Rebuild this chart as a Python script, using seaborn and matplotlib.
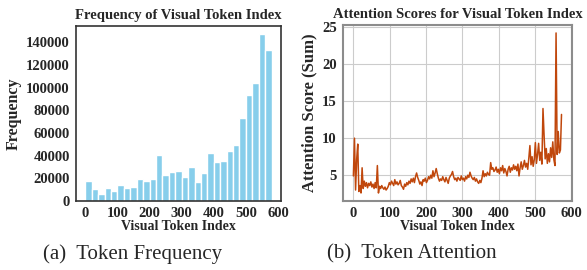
import matplotlib
matplotlib.use('Agg')
import matplotlib.pyplot as plt
import numpy as np
import seaborn as sns

# histogram of visual token index (bins of 20 tokens)
BIN_WIDTH = 20
bin_start = np.arange(0, 580, BIN_WIDTH)
token_freq = [17400, 10900, 5900, 11500, 8500, 13800, 11200, 12100, 19700, 18000,
              19200, 41000, 23000, 25900, 26200, 21500, 29800, 17100, 24500, 42400,
              34200, 35100, 43900, 49800, 72800, 93400, 104300, 147000, 133200]

# summed attention score per visual token (every 3rd token)
token_idx = np.arange(0, 576, 3)
attn_score = [
    4.9, 10.0, 3.0, 7.1, 9.2, 2.8, 3.6, 2.6, 6.0, 3.2,
    4.2, 3.5, 4.0, 3.3, 3.9, 3.6, 4.1, 3.4, 3.8, 3.2,
    4.0, 3.3, 6.3, 2.6, 3.5, 3.2, 3.6, 3.3, 3.1, 3.4,
    3.0, 3.2, 3.5, 4.0, 3.7, 4.2, 3.9, 3.6, 4.4, 3.8,
    4.1, 3.7, 3.9, 4.3, 3.6, 3.4, 3.1, 3.8, 3.5, 4.0,
    3.7, 4.2, 3.9, 4.5, 4.1, 4.6, 4.0, 4.8, 5.3, 4.7,
    4.3, 3.8, 4.1, 3.6, 4.4, 4.2, 4.6, 4.0, 4.3, 4.8,
    4.5, 5.0, 4.6, 5.6, 4.8, 5.3, 5.9, 5.2, 4.6, 4.2,
    4.5, 4.3, 4.8, 4.4, 4.1, 4.7, 4.3, 3.9, 4.6, 4.9,
    5.1, 5.5, 4.8, 4.4, 4.6, 4.2, 4.7, 4.5, 4.3, 4.9,
    4.4, 4.6, 4.2, 4.8, 4.5, 5.0, 4.7, 5.4, 4.9, 4.6,
    4.4, 4.7, 4.2, 4.5, 4.1, 3.9, 4.3, 4.0, 4.6, 5.6,
    4.8, 5.2, 4.9, 5.4, 5.1, 5.0, 6.7, 5.8, 6.0, 5.5,
    5.7, 6.1, 5.4, 5.8, 5.2, 6.0, 5.6, 6.3, 5.3, 5.9,
    5.5, 4.9, 5.8, 6.2, 5.4, 6.0, 5.7, 6.4, 5.8, 6.2,
    5.6, 6.5, 4.9, 6.0, 6.8, 5.8, 6.3, 7.0, 6.1, 6.6,
    5.8, 7.3, 9.0, 6.4, 7.5, 6.2, 7.1, 9.4, 6.6, 7.8,
    9.3, 7.0, 8.1, 6.5, 14.0, 10.4, 7.2, 8.6, 6.6, 7.9,
    6.8, 8.7, 7.4, 9.5, 7.1, 6.3, 24.2, 7.8, 10.9, 8.0,
    8.4, 13.2,
]

BAR_COLOR = '#87ceeb'
LINE_COLOR = '#c0470c'


def _set_fonts():
    plt.rcParams['font.family'] = 'serif'
    plt.rcParams['font.serif'] = ['Liberation Serif', 'DejaVu Serif']
    plt.rcParams['font.weight'] = 'bold'
    plt.rcParams['axes.labelweight'] = 'bold'
    plt.rcParams['axes.titleweight'] = 'bold'


def _plot_frequency(fig):
    sns.set_style('white')
    _set_fonts()
    ax = fig.add_axes([0.1295, 0.2556, 0.349, 0.648])
    sns.histplot(x=bin_start + BIN_WIDTH / 2, weights=token_freq,
                 binwidth=BIN_WIDTH, binrange=(0, 580),
                 color=BAR_COLOR, alpha=1, edgecolor='white', linewidth=1,
                 ax=ax)
    ax.set_title('Frequency of Visual Token Index', fontsize=10.5, pad=5)
    ax.set_xlabel('Visual Token Index', fontsize=10, labelpad=0)
    ax.set_ylabel('Frequency', fontsize=11.5, labelpad=3)
    ax.set_xticks([0, 100, 200, 300, 400, 500, 600])
    ax.set_yticks(range(0, 140001, 20000))
    ax.tick_params(labelsize=10.5, pad=1)
    for s in ax.spines.values():
        s.set_color('.2')
        s.set_linewidth(1.2)
    return ax


def _plot_attention(fig):
    sns.set_style('whitegrid')
    _set_fonts()
    ax = fig.add_axes([0.5843, 0.2556, 0.390, 0.652])
    sns.lineplot(x=token_idx, y=attn_score, color=LINE_COLOR,
                 linewidth=1.1, ax=ax)
    ax.set_title('Attention Scores for Visual Token Index', fontsize=10.5, pad=5)
    ax.set_xlabel('Visual Token Index', fontsize=10, labelpad=0)
    ax.set_ylabel('Attention Score (Sum)', fontsize=12, labelpad=3)
    ax.set_xticks([0, 100, 200, 300, 400, 500, 600])
    ax.set_yticks([5, 10, 15, 20, 25])
    ax.tick_params(labelsize=10.5, pad=1)
    for s in ax.spines.values():
        s.set_color('.55')
        s.set_linewidth(1.5)
    return ax


def main():
    fig = plt.figure(figsize=(5.87, 2.70), dpi=100)
    _plot_frequency(fig)
    _plot_attention(fig)
    fig.text(133 / 587, 1 - 254 / 270, '(a)  Token Frequency',
             ha='center', va='center', fontsize=15, fontweight='normal')
    fig.text(412 / 587, 1 - 254 / 270, '(b)  Token Attention',
             ha='center', va='center', fontsize=15, fontweight='normal')
    fig.savefig('out.png', dpi=100)
    plt.close(fig)


if __name__ == '__main__':
    main()
